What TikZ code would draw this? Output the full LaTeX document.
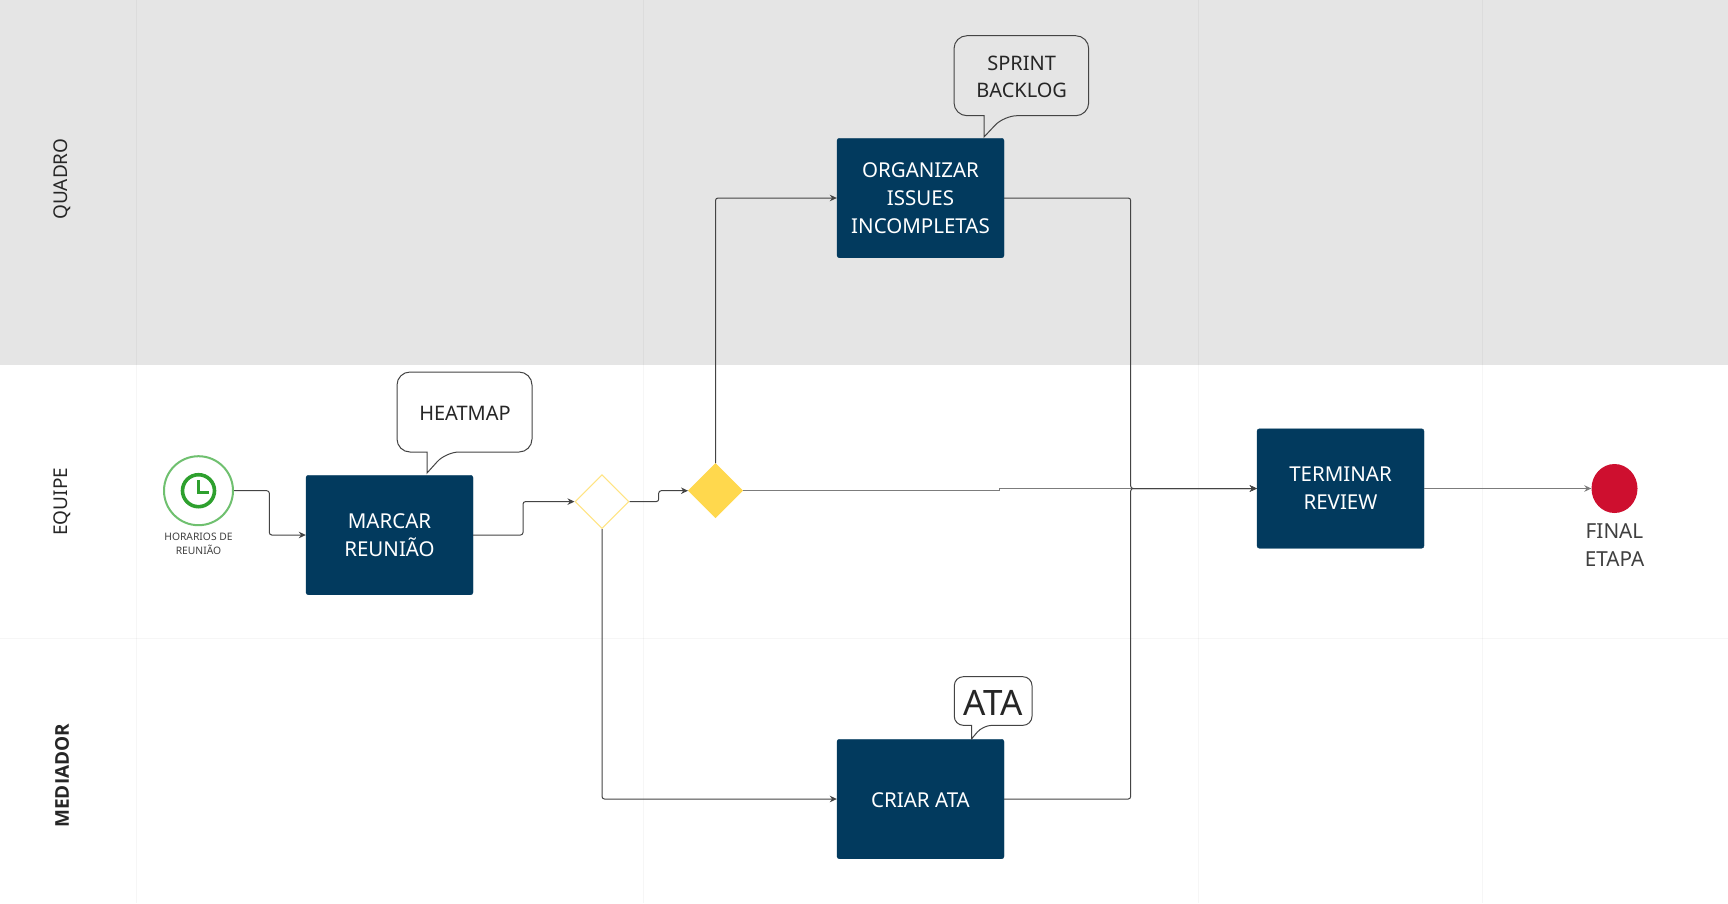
\documentclass[tikz,border=0pt]{standalone}
\usepackage{fontspec}
\setmainfont{Noto Sans}
\newfontfamily\lanebold{Open Sans}
\usetikzlibrary{arrows.meta,shapes.geometric}
\definecolor{taskblue}{HTML}{023A5E}
\definecolor{gatewayyellow}{HTML}{FFD84D}
\definecolor{endred}{HTML}{CE0F2F}
\definecolor{timergreen}{HTML}{2EA02E}
\definecolor{ringgreen}{HTML}{6FC06F}
\definecolor{laneshade}{HTML}{E5E5E5}
\definecolor{flowgray}{HTML}{444444}
\tikzset{
  lanetext/.style={rotate=90,text=black!85,font=\fontsize{19}{24}\selectfont},
  laneline/.style={draw=black,opacity=0.035,line width=1},
  task/.style={draw=taskblue,fill=taskblue,text=white,rounded corners=2.5,minimum width=167,minimum height=119.5,align=center,inner sep=0,font=\fontsize{20.5}{28}\selectfont,execute at begin node={\rule{0pt}{#1}}},
  task/.default=22pt,
  gateway/.style={diamond,inner sep=0,minimum width=54,minimum height=54,line width=1},
  flow/.style={draw=flowgray,line width=1,rounded corners=2.5,-{Stealth[length=7,width=6.5]}},
  flowlight/.style={flow,draw=flowgray!70,line width=1.3},
  bubble/.style={draw=flowgray,line width=1},
  bubbletext/.style={text=black!85,align=center,inner sep=0,font=\fontsize{20}{27}\selectfont},
  note/.style={text=black!75,align=center,inner sep=0}
}
\begin{document}
\begin{tikzpicture}[x=1pt,y=-1pt]
\useasboundingbox (0,0) rectangle (1728,903);
\fill[white] (0,0) rectangle (1728,903);
\fill[laneshade] (0,0) rectangle (1728,365);
\draw[laneline] (136,0) -- (136,903) (643,0) -- (643,903) (1198,0) -- (1198,903) (1482.5,0) -- (1482.5,903);
\draw[laneline] (0,638.8) -- (1728,638.8);
\node[lanetext] (lane_quadro) at (62.7,179) {QUADRO};
\node[lanetext] (lane_equipe) at (62.7,501.7) {EQUIPE};
\node[lanetext,font=\fontsize{19}{24}\selectfont\lanebold\bfseries] (lane_mediador) at (62.2,775.7) {MEDIADOR};

\node[circle,draw=ringgreen,line width=2,minimum size=69,inner sep=0] (node_clock) at (198.5,490.7) {};
\draw[timergreen,line width=3.6] (node_clock.center) circle (16);
\draw[timergreen,line width=2.6] (198.7,480) -- (198.7,492.5) -- (208.5,492.5);
\node[note,font=\fontsize{10.3}{14}\selectfont] (node_horarios) at (198.5,543.5) {HORARIOS DE\\REUNIÃO};

\node[task] (node_marcar) at (389.5,535) {MARCAR\\REUNIÃO};
\node[task] (node_organizar) at (920.5,198) {ORGANIZAR\\ISSUES\\INCOMPLETAS};
\node[task=17pt] (node_criar) at (920.5,799) {CRIAR ATA};
\node[task] (node_terminar) at (1340.5,488.5) {TERMINAR\\REVIEW};
\node[gateway,draw=gatewayyellow!70,fill=white] (node_split) at (602,501.6) {};
\node[gateway,draw=gatewayyellow,fill=gatewayyellow] (node_check) at (715.5,490.7) {};
\node[ellipse,fill=endred,minimum width=46,minimum height=49,inner sep=0] (node_final) at (1614.5,488.5) {};
\node[note,font=\fontsize{20.7}{28}\selectfont] (node_etapa) at (1614.5,545) {FINAL\\ETAPA};

\coordinate (bend_clock) at (269.3,513);
\coordinate (bend_marcar) at (523,518);
\coordinate (bend_split) at (658.7,496);
\coordinate (bend_main) at (999.5,489.6);
\coordinate (bend_join) at (1130.7,488.5);

\draw[flow] (node_clock.east) -| (bend_clock) |- (node_marcar.west);
\draw[flow] (node_marcar.east) -| (bend_marcar) |- (node_split.west);
\draw[flow] (node_split.east) -| (bend_split) |- (node_check.west);
\draw[flow] (node_check.north) |- (node_organizar.west);
\draw[flow] (node_split.south) |- (node_criar.west);
\draw[flowlight,sharp corners] (node_check.east) -| (bend_main) |- (node_terminar.west);
\draw[flow] (node_organizar.east) -| (bend_join) -- (node_terminar.west);
\draw[flow] (node_criar.east) -| (bend_join) -- (node_terminar.west);
\draw[flowlight] (node_terminar.east) -- (node_final.west);

\draw[bubble,fill=white] (397,412) [rounded corners=13] |- (532,372) |- (446,452) [sharp corners] -- (427,473) -- (427,452) [rounded corners=13] -| (397,412) -- cycle;
\node[bubbletext] (node_heatmap) at (465,413.8) {HEATMAP};
\draw[bubble,fill=laneshade] (954,75) [rounded corners=13] |- (1088.7,35.7) |- (1004,115.7) [sharp corners] -- (984,137) -- (984,115.7) [rounded corners=13] -| (954,75) -- cycle;
\node[bubbletext] (node_sprint) at (1021.7,76.5) {SPRINT\\BACKLOG};
\draw[bubble,fill=white] (954.3,701) [rounded corners=9] |- (1032,676.7) |- (983,725.3) [sharp corners] -- (971.7,738.7) -- (971.7,725.3) [rounded corners=9] -| (954.3,701) -- cycle;
\node[bubbletext,font=\fontsize{35}{38}\selectfont] (node_ata) at (993.4,703.3) {ATA};
\end{tikzpicture}
\end{document}
